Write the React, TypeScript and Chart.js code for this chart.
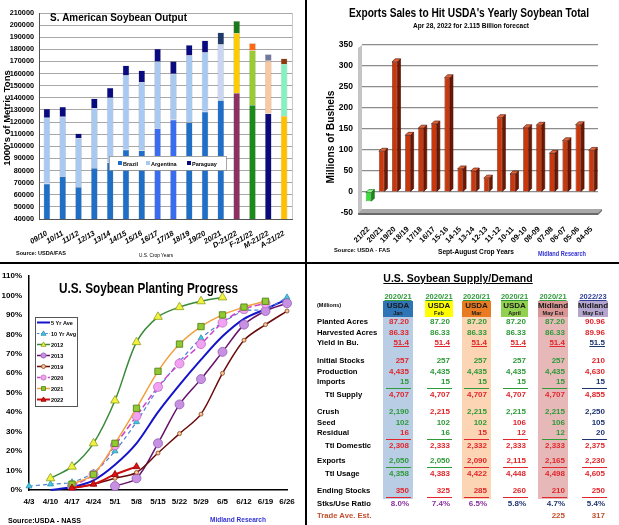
import React, { useEffect, useRef } from 'react';
import { Chart, registerables } from 'chart.js';
Chart.register(...registerables);

const FONT = '"Liberation Sans", Arial, Helvetica, sans-serif';

// ---------------- Panel A: S. American Soybean Output ----------------
const saCategories = ['09/10', '10/11', '11/12', '12/13', '13/14', '14/15', '15/16', '16/17', '17/18', '18/19', '19/20', '20/21', 'D-21/22', 'F-21/22', 'M-21/22', 'A-21/22'];
const saSeriesNames = ['Brazil', 'Argentina', 'Paraguay'];
const saBrazil = [69000, 75300, 66500, 82000, 86700, 97100, 96500, 114900, 122000, 119700, 128500, 138000, 144000, 134000, 127000, 125000];
const saArgentina = [54500, 49000, 40100, 49300, 53400, 61400, 56500, 55000, 37800, 55300, 48800, 46000, 49500, 45000, 43500, 43000];
const saParaguay = [7400, 8400, 4000, 8200, 8200, 8100, 9500, 10700, 10300, 8500, 10000, 10000, 10000, 6000, 5500, 4500];
const saYMin = 40000;
const saYMax = 210000;
const saYStep = 10000;

// colours (style, separate from data)
const B1 = '#1f6fc6';
const B2 = '#3a6cf0';
const saBrazilColors = [B1, B1, B1, B1, B1, B1, B1, B2, B2, B1, B1, B1, '#8c2f62', '#1a8a1a', '#0a0a7a', '#ffc000'];
const A1 = '#a9c9f0';
const saArgentinaColors = [A1, A1, A1, A1, A1, A1, A1, A1, A1, A1, A1, '#c9d6f2', '#ffcc00', '#9acb30', '#f8c9a0', '#86f0c0'];
const P1 = '#0a0a80';
const saParaguayColors = [P1, P1, P1, P1, P1, P1, P1, P1, P1, P1, P1, '#1f3a6a', '#1a7a1a', '#ff6a10', '#7078a0', '#8b3a10'];
const saLegendColors = [B1, A1, P1];

// ---------------- Panel B: Export sales ----------------
const exCategories = ['21/22', '20/21', '19/20', '18/19', '17/18', '16/17', '15-16', '14-15', '13-14', '12-13', '11-12', '10-11', '09-10', '08-09', '07-08', '06-07', '05-06', '04-05'];
const exValues = [-22, 97, 310, 135, 152, 162, 272, 55, 50, 33, 177, 43, 153, 159, 92, 122, 160, 99];
const exYMin = -50;
const exYMax = 350;
const exYStep = 50;

// ---------------- Panel C: Planting progress ----------------
const ppDates = ['4/3', '4/10', '4/17', '4/24', '5/1', '5/8', '5/15', '5/22', '5/29', '6/5', '6/12', '6/19', '6/26'];
const ppSeriesNames = ['5 Yr Ave', '10 Yr Avg', '2012', '2013', '2019', '2020', '2021', '2022'];
const pp5Yr = [null, 0, 1.5, 5, 13, 24, 40, 54, 67, 79, 88, 93, 98];
const pp10Yr = [2, 3, 4, 9, 20, 35, 52, 66, 78, 86, 92, 93, 99];
const pp2012 = [null, 6, 12, 24, 46, 76, 89, 94, 97, 99, null, null, null];
const pp2013 = [null, null, null, null, 2, 6, 24, 44, 57, 71, 85, 92, 96];
const pp2019 = [null, null, 1, 3, 6, 9, 19, 29, 39, 60, 77, 85, 92];
const pp2020 = [null, null, 2, 8, 23, 38, 53, 65, 75, 86, 93, 96, null];
const pp2021 = [null, null, 3, 8, 24, 42, 61, 75, 84, 90, 94, 97, null];
const pp2022 = [null, null, 1, 3, 8, 12, null, null, null, null, null, null, null];
const ppYMax = 110;
const ppYStep = 10;

// ---------------- Panel D: Supply / Demand table ----------------
const sdYears = ['2020/21', '2020/21', '2020/21', '2020/21', '2020/21', '2022/23'];
const sdSources = ['USDA', 'USDA', 'USDA', 'USDA', 'Midland', 'Midland'];
const sdMonths = ['Jan', 'Feb', 'Mar', 'April', 'May Est', 'May Est'];
const sdRowLabels = ['Planted Acres', 'Harvested Acres', 'Yield in Bu.', 'Initial Stocks', 'Production', 'Imports', 'Ttl Supply', 'Crush', 'Seed', 'Residual', 'Ttl Domestic', 'Exports', 'Ttl Usage', 'Ending Stocks', 'Stks/Use Ratio', 'Trade Ave. Est.'];
const sdPlanted = ['87.20', '87.20', '87.20', '87.20', '87.20', '90.96'];
const sdHarvested = ['86.33', '86.33', '86.33', '86.33', '86.33', '89.96'];
const sdYield = ['51.4', '51.4', '51.4', '51.4', '51.4', '51.5'];
const sdInitial = ['257', '257', '257', '257', '257', '210'];
const sdProduction = ['4,435', '4,435', '4,435', '4,435', '4,435', '4,630'];
const sdImports = ['15', '15', '15', '15', '15', '15'];
const sdTtlSupply = ['4,707', '4,707', '4,707', '4,707', '4,707', '4,855'];
const sdCrush = ['2,190', '2,215', '2,215', '2,215', '2,215', '2,250'];
const sdSeed = ['102', '102', '102', '106', '106', '105'];
const sdResidual = ['16', '16', '15', '12', '12', '20'];
const sdTtlDomestic = ['2,308', '2,333', '2,332', '2,333', '2,333', '2,375'];
const sdExports = ['2,050', '2,050', '2,090', '2,115', '2,165', '2,230'];
const sdTtlUsage = ['4,358', '4,383', '4,422', '4,448', '4,498', '4,605'];
const sdEnding = ['350', '325', '285', '260', '210', '250'];
const sdStksUse = ['8.0%', '7.4%', '6.5%', '5.8%', '4.7%', '5.4%'];
const sdTrade = ['', '', '', '', '225', '317'];
const sdValues = [sdPlanted, sdHarvested, sdYield, sdInitial, sdProduction, sdImports, sdTtlSupply, sdCrush, sdSeed, sdResidual, sdTtlDomestic, sdExports, sdTtlUsage, sdEnding, sdStksUse, sdTrade];

// style maps for the table (r red, g green, n navy, p purple, b brown)
const sdCellColors = [
  'rggggr', 'rggggr', 'rrrrrn', 'rggggr', 'rggggr', 'gggggn', 'rrrrrr', 'grgggn', 'gggrgn', 'rgrrgn', 'rrrrrr', 'ggrrrr', 'grrrrr', 'rrrrrr', 'pppnnn', 'bbbbbb',
];
const COLORS: Record<string, string> = { r: '#e2262b', g: '#2e9a3a', n: '#1f3570', p: '#8a2fa0', b: '#c0502e' };
// layout of the table
const sdRowY = [323, 333.5, 344, 362, 372.5, 383, 396, 413, 423.5, 434, 447, 462, 475, 492, 505, 517];
const sdRowIndent = [0, 0, 0, 0, 0, 0, 8, 0, 0, 0, 8, 0, 8, 0, 0, 0];
const sdRowUnderline = ['', '', 'text', '', '', 'line', '', '', '', 'line', '', 'line', '', 'line', '', ''];
const sdColRight = [409, 450, 487, 526, 565, 605];
const sdBoxL = [383, 425, 462, 501, 538, 578];
const sdBoxR = [413, 453, 491, 528, 568, 608];
const sdBoxColors = ['#2f75b5', '#ffff00', '#e97b22', '#92d050', '#d99694', '#b4a6cf'];
const sdBandColors = ['#b9cde5', '', '#fcd5b5', '', '#e6b9b8', ''];
const sdYearColors = ['#2e9a3a', '#2e9a3a', '#2e9a3a', '#2e9a3a', '#2e9a3a', '#2f3c9a'];

// ---------------- helpers ----------------
function txt(ctx: any, s: string, x: number, y: number, font: string, color: string, align: string = 'left', maxW?: number) {
  ctx.save();
  ctx.font = font;
  ctx.fillStyle = color;
  ctx.textAlign = align;
  ctx.textBaseline = 'alphabetic';
  if (maxW && ctx.measureText(s).width > maxW) ctx.fillText(s, x, y, maxW);
  else ctx.fillText(s, x, y);
  ctx.restore();
}

function drawMarker(ctx: any, style: string, x: number, y: number, r: number, fill: string, stroke: string) {
  ctx.save();
  ctx.fillStyle = fill;
  ctx.strokeStyle = stroke;
  ctx.lineWidth = 0.8;
  ctx.setLineDash([]);
  ctx.beginPath();
  if (style === 'circle') {
    ctx.arc(x, y, r, 0, Math.PI * 2);
  } else if (style === 'triangle') {
    ctx.moveTo(x, y - r);
    ctx.lineTo(x + r * 0.95, y + r * 0.7);
    ctx.lineTo(x - r * 0.95, y + r * 0.7);
    ctx.closePath();
  } else if (style === 'rect') {
    ctx.rect(x - r * 0.75, y - r * 0.75, r * 1.5, r * 1.5);
  }
  ctx.fill();
  ctx.stroke();
  ctx.restore();
}

function ChartBox({ left, top, width, height, make }: any) {
  const ref = useRef<HTMLCanvasElement>(null);
  useEffect(() => {
    const chart = new Chart(ref.current as any, make());
    return () => chart.destroy();
  }, []);
  return (
    <div style={{ position: 'absolute', left, top, width, height }}>
      <canvas ref={ref} width={width} height={height} style={{ width, height, display: 'block' }} />
    </div>
  );
}

// ---------------- Panel A config ----------------
function makeA(): any {
  const decor = {
    id: 'saDecor',
    afterDatasetsDraw(chart: any) {
      const ctx = chart.ctx;
      const ca = chart.chartArea;
      ctx.save();
      ctx.strokeStyle = '#c8c8c8';
      ctx.lineWidth = 1;
      ctx.beginPath();
      ctx.moveTo(ca.right + 0.5, ca.top);
      ctx.lineTo(ca.right + 0.5, ca.bottom);
      ctx.stroke();
      ctx.restore();
      ctx.save();
      ctx.fillStyle = '#fff';
      ctx.fillRect(109, 156, 117, 14);
      ctx.strokeStyle = '#909090';
      ctx.lineWidth = 0.8;
      ctx.strokeRect(109.5, 156.5, 117, 14);
      ctx.restore();
      const lx = [118, 146, 187];
      saSeriesNames.forEach((n, i) => {
        ctx.fillStyle = saLegendColors[i];
        ctx.fillRect(lx[i], 161, 4, 4);
        txt(ctx, n, lx[i] + 5, 165.5, `bold 5.5px ${FONT}`, '#000');
      });
    },
    afterDraw(chart: any) {
      const ctx = chart.ctx;
      txt(ctx, 'S. American Soybean Output', 50, 21, `bold 10.5px ${FONT}`, '#000', 'left', 137);
      ctx.save();
      ctx.translate(6, 118);
      ctx.rotate(-Math.PI / 2);
      txt(ctx, "1000's of Metric Tons", 0, 3.5, `bold 9.5px ${FONT}`, '#000', 'center', 100);
      ctx.restore();
      txt(ctx, 'Source: USDA/FAS', 16, 255, `bold 5.5px ${FONT}`, '#000', 'left', 50);
      txt(ctx, 'U.S. Crop Years', 139, 257, `5px ${FONT}`, '#000', 'left', 34);
    },
  };
  const common = { stack: 's', barPercentage: 0.42, categoryPercentage: 1, borderColor: 'rgba(0,0,0,0.3)', borderWidth: 0.5 };
  return {
    type: 'bar',
    data: {
      labels: saCategories,
      datasets: [
        { label: saSeriesNames[0], data: saBrazil, backgroundColor: saBrazilColors, ...common },
        { label: saSeriesNames[1], data: saArgentina, backgroundColor: saArgentinaColors, ...common },
        { label: saSeriesNames[2], data: saParaguay, backgroundColor: saParaguayColors, ...common },
      ],
    },
    options: {
      responsive: false,
      animation: false,
      devicePixelRatio: 1,
      layout: { padding: { top: 13, right: 13, left: 0, bottom: 0 } },
      plugins: { legend: { display: false }, tooltip: { enabled: false } },
      scales: {
        x: {
          stacked: true,
          grid: { display: false },
          border: { color: '#555', width: 1 },
          ticks: { autoSkip: false, minRotation: 30, maxRotation: 30, color: '#000', padding: 2, font: { family: FONT, size: 7.5, weight: 'bold', style: 'italic' } },
          afterFit: (s: any) => { s.height = 43; },
        },
        y: {
          stacked: true,
          min: saYMin,
          max: saYMax,
          ticks: { stepSize: saYStep, color: '#000', padding: 5, callback: (v: any) => String(v), font: { family: FONT, size: 7.3, weight: 'bold' } },
          grid: { color: '#a8a8a8', drawTicks: false },
          border: { color: '#555', width: 1 },
          afterFit: (s: any) => { s.width = 39; },
        },
      },
    },
    plugins: [decor],
  };
}

// ---------------- Panel B config ----------------
function makeB(): any {
  const deco = {
    id: 'ex3d',
    beforeDatasetsDraw(chart: any) {
      const ctx = chart.ctx;
      const ca = chart.chartArea;
      ctx.save();
      ctx.fillStyle = '#c4c4c4';
      ctx.beginPath();
      ctx.moveTo(ca.left - 4, ca.top + 3);
      ctx.lineTo(ca.left, ca.top);
      ctx.lineTo(ca.left, ca.bottom - 4);
      ctx.lineTo(ca.left - 4, ca.bottom);
      ctx.closePath();
      ctx.fill();
      ctx.fillStyle = '#a9a9a9';
      ctx.beginPath();
      ctx.moveTo(ca.left - 4, ca.bottom);
      ctx.lineTo(ca.left, ca.bottom - 4);
      ctx.lineTo(ca.right + 4, ca.bottom - 4);
      ctx.lineTo(ca.right, ca.bottom);
      ctx.closePath();
      ctx.fill();
      ctx.fillStyle = '#6a6a6a';
      ctx.beginPath();
      ctx.moveTo(ca.left - 4, ca.bottom);
      ctx.lineTo(ca.right, ca.bottom);
      ctx.lineTo(ca.right + 4, ca.bottom - 4);
      ctx.lineTo(ca.right + 4, ca.bottom - 2);
      ctx.lineTo(ca.right, ca.bottom + 2);
      ctx.lineTo(ca.left - 4, ca.bottom + 2);
      ctx.closePath();
      ctx.fill();
      ctx.restore();
    },
    afterDatasetsDraw(chart: any) {
      const ctx = chart.ctx;
      const meta = chart.getDatasetMeta(0);
      meta.data.forEach((el: any, i: number) => {
        const p = el.getProps(['x', 'y', 'base', 'width'], true);
        const l = p.x - p.width / 2;
        const r = p.x + p.width / 2;
        const t = Math.min(p.y, p.base);
        const b = Math.max(p.y, p.base);
        const dx = 3;
        const dy = 3;
        const neg = exValues[i] < 0;
        ctx.save();
        ctx.strokeStyle = neg ? '#0e5a0e' : '#4a0c00';
        ctx.lineWidth = 0.6;
        ctx.fillStyle = neg ? '#1c8a1c' : '#6e1800';
        ctx.beginPath();
        ctx.moveTo(r, t);
        ctx.lineTo(r + dx, t - dy);
        ctx.lineTo(r + dx, b - dy);
        ctx.lineTo(r, b);
        ctx.closePath();
        ctx.fill();
        ctx.stroke();
        ctx.fillStyle = neg ? '#8af58a' : '#e2663a';
        ctx.beginPath();
        ctx.moveTo(l, t);
        ctx.lineTo(l + dx, t - dy);
        ctx.lineTo(r + dx, t - dy);
        ctx.lineTo(r, t);
        ctx.closePath();
        ctx.fill();
        ctx.stroke();
        ctx.restore();
      });
    },
    afterDraw(chart: any) {
      const ctx = chart.ctx;
      txt(ctx, "Exports Sales to Hit USDA's Yearly Soybean Total", 162, 17, `bold 12.5px ${FONT}`, '#000', 'center', 240);
      txt(ctx, 'Apr 28, 2022 for 2.115 Billion forecact', 164, 27.5, `bold 8px ${FONT}`, '#000', 'center', 116);
      ctx.save();
      ctx.translate(27, 137);
      ctx.rotate(-Math.PI / 2);
      txt(ctx, 'Millions of Bushels', 0, 0, `bold 10.5px ${FONT}`, '#000', 'center', 93);
      ctx.restore();
      txt(ctx, 'Source: USDA - FAS', 27, 252, `bold 6px ${FONT}`, '#000', 'left', 56);
      txt(ctx, 'Sept-August Crop Years', 169, 254, `bold 8px ${FONT}`, '#000', 'center', 76);
      txt(ctx, 'Midland Research', 231, 256, `bold 7px ${FONT}`, '#3232d2', 'left', 48);
    },
  };
  return {
    type: 'bar',
    data: {
      labels: exCategories,
      datasets: [
        {
          label: 'Export sales',
          data: exValues,
          backgroundColor: exValues.map((v) => (v < 0 ? '#38e038' : '#c8380c')),
          borderColor: exValues.map((v) => (v < 0 ? '#0e5a0e' : '#4a0c00')),
          borderWidth: 0.6,
          barPercentage: 0.42,
          categoryPercentage: 1,
        },
      ],
    },
    options: {
      responsive: false,
      animation: false,
      devicePixelRatio: 1,
      layout: { padding: { top: 45, right: 21, left: 0, bottom: 0 } },
      plugins: { legend: { display: false }, tooltip: { enabled: false } },
      scales: {
        x: {
          grid: { display: false },
          border: { display: false },
          ticks: { autoSkip: false, minRotation: 45, maxRotation: 45, color: '#000', padding: 4, font: { family: FONT, size: 7.5, weight: 'bold' } },
          afterFit: (s: any) => { s.height = 49; },
        },
        y: {
          min: exYMin,
          max: exYMax,
          ticks: { stepSize: exYStep, color: '#000', padding: 9, font: { family: FONT, size: 8.5, weight: 'bold' } },
          grid: { color: '#8c8c8c', lineWidth: 1.2, drawTicks: false },
          border: { display: false },
          afterFit: (s: any) => { s.width = 55; },
        },
      },
    },
    plugins: [deco],
  };
}

// ---------------- Panel C config ----------------
const ppStyles = [
  { line: '#1414c8', width: 2, dash: [], marker: '', r: 0, fill: '', stroke: '' },
  { line: '#4a80d4', width: 1.2, dash: [4, 3], marker: 'triangle', r: 3.5, fill: '#44c8e0', stroke: '#2f8fb0' },
  { line: '#3a8a3a', width: 1.5, dash: [], marker: 'triangle', r: 5, fill: '#f2f23e', stroke: '#8aa020' },
  { line: '#66106a', width: 1.5, dash: [], marker: 'circle', r: 4.5, fill: '#c890e2', stroke: '#9060b0' },
  { line: '#6a0a0a', width: 1.5, dash: [], marker: 'circle', r: 2, fill: '#f4c89a', stroke: '#8a4020' },
  { line: '#cc44cc', width: 1.5, dash: [6, 3], marker: 'circle', r: 4.5, fill: '#f2a2f2', stroke: '#c070c0' },
  { line: '#f2a040', width: 1.5, dash: [], marker: 'rect', r: 4.5, fill: '#92c832', stroke: '#4a7a10' },
  { line: '#cc1010', width: 2, dash: [], marker: 'triangle', r: 4, fill: '#dd1212', stroke: '#900000' },
];

function makeC(): any {
  const seriesData = [pp5Yr, pp10Yr, pp2012, pp2013, pp2019, pp2020, pp2021, pp2022];
  const n = seriesData.length;
  const deco = {
    id: 'ppDeco',
    afterDraw(chart: any) {
      const ctx = chart.ctx;
      txt(ctx, 'U.S. Soybean Planting Progress', 59, 29, `bold 14px ${FONT}`, '#000', 'left', 179);
      txt(ctx, 'Source:USDA - NASS', 8, 259, `bold 7.5px ${FONT}`, '#000', 'left', 73);
      txt(ctx, 'Midland Research', 210, 258, `bold 7.5px ${FONT}`, '#3232d2', 'left', 56);
      ctx.save();
      ctx.fillStyle = '#fff';
      ctx.fillRect(35, 53, 42, 89);
      ctx.strokeStyle = '#555';
      ctx.lineWidth = 1;
      ctx.strokeRect(35.5, 53.5, 42, 89);
      ctx.restore();
      ppSeriesNames.forEach((name, i) => {
        const st = ppStyles[i];
        const y = 58.5 + i * 11;
        ctx.save();
        ctx.strokeStyle = st.line;
        ctx.lineWidth = st.width;
        ctx.setLineDash(st.dash.map((d: number) => d * 0.6));
        ctx.beginPath();
        ctx.moveTo(37, y);
        ctx.lineTo(50, y);
        ctx.stroke();
        ctx.restore();
        if (st.marker) drawMarker(ctx, st.marker, 43.5, y, Math.min(st.r, 2.6), st.fill, st.stroke);
        txt(ctx, name, 51, y + 2, `bold 5.5px ${FONT}`, '#000', 'left');
      });
    },
  };
  return {
    type: 'line',
    data: {
      labels: ppDates,
      datasets: seriesData.map((d, i) => {
        const st = ppStyles[i];
        return {
          label: ppSeriesNames[i],
          data: d,
          borderColor: st.line,
          borderWidth: st.width,
          borderDash: st.dash,
          tension: 0.3,
          spanGaps: false,
          pointStyle: st.marker || 'circle',
          pointRadius: st.marker ? st.r : 0,
          pointBackgroundColor: st.fill,
          pointBorderColor: st.stroke,
          pointBorderWidth: 0.8,
          clip: false,
          order: n - i,
          fill: false,
        };
      }),
    },
    options: {
      responsive: false,
      animation: false,
      devicePixelRatio: 1,
      layout: { padding: { top: 12, right: 18, left: 0, bottom: 0 } },
      plugins: { legend: { display: false }, tooltip: { enabled: false } },
      scales: {
        x: {
          grid: { display: false, drawTicks: false },
          border: { color: '#000', width: 1.5 },
          ticks: { autoSkip: false, maxRotation: 0, color: '#000', padding: 7, font: { family: FONT, size: 8, weight: 'bold' } },
          afterFit: (s: any) => { s.height = 35; },
        },
        y: {
          min: 0,
          max: ppYMax,
          ticks: { stepSize: ppYStep, color: '#000', padding: 7, callback: (v: any) => v + '%', font: { family: FONT, size: 8, weight: 'bold' } },
          grid: { display: false, drawTicks: false },
          border: { color: '#000', width: 1.5 },
          afterFit: (s: any) => { s.width = 29; },
        },
      },
    },
    plugins: [deco],
  };
}

// ---------------- Panel D: table ----------------
function SupplyDemand() {
  const F = FONT;
  const els: any[] = [];
  sdBandColors.forEach((c, i) => {
    if (!c) return;
    els.push(<div key={'band' + i} style={{ position: 'absolute', left: sdBoxL[i], top: 317, width: sdBoxR[i] - sdBoxL[i], height: 182, background: c }} />);
  });
  sdYears.forEach((y, i) => {
    const cx = (sdBoxL[i] + sdBoxR[i]) / 2;
    els.push(
      <div key={'yr' + i} style={{ position: 'absolute', left: cx - 25, top: 292, width: 50, height: 10, lineHeight: '10px', textAlign: 'center', font: `bold 7.5px ${F}`, color: sdYearColors[i], textDecoration: 'underline' }}>{y}</div>
    );
    els.push(
      <div key={'box' + i} style={{ position: 'absolute', left: sdBoxL[i], top: 301, width: sdBoxR[i] - sdBoxL[i], height: 16, background: sdBoxColors[i] }} />
    );
    els.push(
      <div key={'src' + i} style={{ position: 'absolute', left: cx - 25, top: 301, width: 50, height: 9, lineHeight: '10px', textAlign: 'center', font: `bold 8px ${F}`, color: '#1a1a1a' }}>{sdSources[i]}</div>
    );
    els.push(
      <div key={'mon' + i} style={{ position: 'absolute', left: cx - 25, top: 310, width: 50, height: 7, lineHeight: '7px', textAlign: 'center', font: `bold 5.5px ${F}`, color: '#1a1a1a' }}>{sdMonths[i]}</div>
    );
  });
  els.push(<div key="mil" style={{ position: 'absolute', left: 317, top: 302, height: 8, lineHeight: '8px', font: `bold 5.5px ${F}`, color: '#000' }}>(Millions)</div>);
  sdRowLabels.forEach((lab, r) => {
    const y = sdRowY[r];
    els.push(
      <div key={'lab' + r} style={{ position: 'absolute', left: 317 + sdRowIndent[r], top: y - 6, height: 12, lineHeight: '12px', font: `bold 7.7px ${F}`, color: r === 15 ? '#c0502e' : '#000', whiteSpace: 'nowrap' }}>{lab}</div>
    );
    sdValues[r].forEach((v, c) => {
      if (!v) return;
      const col = COLORS[sdCellColors[r][c]];
      els.push(
        <div key={'v' + r + '_' + c} style={{ position: 'absolute', left: sdColRight[c] - 40, top: y - 6, width: 40, height: 12, lineHeight: '12px', textAlign: 'right', font: `bold 8px ${F}`, color: col, textDecoration: sdRowUnderline[r] === 'text' ? 'underline' : 'none', whiteSpace: 'nowrap' }}>{v}</div>
      );
      if (sdRowUnderline[r] === 'line') {
        els.push(<div key={'u' + r + '_' + c} style={{ position: 'absolute', left: sdColRight[c] - 23, top: y + 5, width: 25, height: 1.4, background: col }} />);
      }
    });
  });
  return (
    <div style={{ position: 'absolute', left: 0, top: 0, width: 619, height: 525 }}>
      <div style={{ position: 'absolute', left: 383, top: 272, width: 150, height: 14, lineHeight: '14px', textAlign: 'center', font: `bold 10.5px ${F}`, color: '#000', textDecoration: 'underline', whiteSpace: 'nowrap' }}>U.S. Soybean Supply/Demand</div>
      {els}
    </div>
  );
}

export default function App() {
  return (
    <div style={{ position: 'absolute', left: 0, top: 0, width: 619, height: 525, background: '#fff', overflow: 'hidden', fontFamily: FONT }}>
      <ChartBox left={0} top={0} width={305} height={262} make={makeA} />
      <ChartBox left={307} top={0} width={312} height={262} make={makeB} />
      <ChartBox left={0} top={264} width={305} height={261} make={makeC} />
      <SupplyDemand />
      <div style={{ position: 'absolute', left: 305, top: 0, width: 2, height: 525, background: '#000' }} />
      <div style={{ position: 'absolute', left: 0, top: 262, width: 619, height: 2, background: '#000' }} />
    </div>
  );
}
